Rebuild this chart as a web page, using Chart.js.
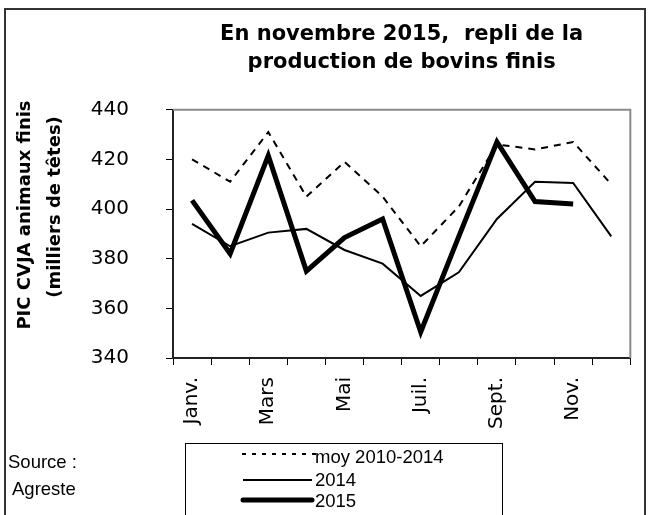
<!DOCTYPE html>
<html lang="fr">
<head>
<meta charset="utf-8">
<script src="https://cdn.jsdelivr.net/npm/chart.js@4.4.0/dist/chart.umd.min.js"></script>
<style>
  html, body { margin: 0; padding: 0; background: #fff; }
  canvas { display: block; }
</style>
</head>
<body>
<canvas id="graphique" width="648" height="515"></canvas>
<script>
const mois = ["Janv.", "Févr.", "Mars", "Avr.", "Mai", "Juin", "Juil.", "Août", "Sept.", "Oct.", "Nov.", "Déc."];
const moy20102014 = [420, 411, 431, 405, 419, 405, 385, 401, 426, 424, 427, 410];
const annee2014 = [394, 385, 390.5, 392, 383.5, 378, 365, 374.5, 396, 411, 410.5, 389];
const annee2015 = [403.5, 382, 421.5, 375, 388.5, 396, 350.5, 389, 427, 403, 402, null];
const titre = ["En novembre 2015,  repli de la", "production de bovins finis"];
const titreAxeY = ["PIC CVJA animaux finis", "(milliers de têtes)"];
const source = ["Source :", "Agreste"];

const FONT_AXES = "'DejaVu Sans', sans-serif";
const FONT_TEXTE = "'Liberation Sans', Arial, sans-serif";

// cadre, titre vertical, légende et source dessinés autour du graphique
const habillage = {
  id: "habillage",
  beforeDraw(chart) {
    const { ctx, width, height } = chart;
    ctx.save();
    ctx.fillStyle = "#fff";
    ctx.fillRect(0, 0, width, height);
    ctx.restore();
  },
  beforeDatasetsDraw(chart) {
    const { ctx, chartArea: a } = chart;
    ctx.save();
    ctx.strokeStyle = "#8a8a8a";
    ctx.lineWidth = 2;
    ctx.beginPath();
    ctx.moveTo(a.left, a.top);
    ctx.lineTo(a.right, a.top);
    ctx.lineTo(a.right, a.bottom);
    ctx.stroke();
    ctx.restore();
  },
  afterDraw(chart) {
    const { ctx } = chart;
    ctx.save();

    // cadre extérieur
    ctx.strokeStyle = "#333";
    ctx.lineWidth = 2;
    ctx.strokeRect(5, 9, 640, 520);

    // titre de l'axe Y
    ctx.fillStyle = "#000";
    ctx.font = "bold 18px " + FONT_AXES;
    ctx.textAlign = "center";
    ctx.textBaseline = "middle";
    ctx.save();
    ctx.translate(25, 215);
    ctx.rotate(-Math.PI / 2);
    titreAxeY.forEach((ligne, i) => ctx.fillText(ligne, i === 1 ? 8 : 0, i * 30.5));
    ctx.restore();

    // légende
    ctx.strokeStyle = "#000";
    ctx.lineWidth = 1;
    ctx.strokeRect(185.5, 443.5, 317, 80);
    const lignesY = [454, 480, 500];
    const textesY = [458, 481, 501.5];
    ctx.font = "18.5px " + FONT_TEXTE;
    ctx.textAlign = "left";
    chart.data.datasets.forEach((ds, i) => {
      ctx.save();
      ctx.strokeStyle = ds.borderColor;
      ctx.lineWidth = ds.borderWidth;
      ctx.lineCap = i === 2 ? "round" : "butt";
      ctx.setLineDash(ds.borderDash ? [4, 6] : []);
      ctx.beginPath();
      ctx.moveTo(i === 0 ? 242 : 243, lignesY[i]);
      ctx.lineTo(i === 0 ? 316 : 312, lignesY[i]);
      ctx.stroke();
      ctx.restore();
      ctx.fillText(ds.label, 315, textesY[i]);
    });

    // source
    ctx.fillText(source[0], 8, 463);
    ctx.fillText(source[1], 12, 490);

    ctx.restore();
  },
};

const graphique = new Chart(document.getElementById("graphique"), {
  type: "line",
  data: {
    labels: mois,
    datasets: [
      { label: "moy 2010-2014", data: moy20102014, borderColor: "#000", borderWidth: 2, borderDash: [7, 6] },
      { label: "2014", data: annee2014, borderColor: "#000", borderWidth: 2 },
      { label: "2015", data: annee2015, borderColor: "#000", borderWidth: 5 },
    ],
  },
  options: {
    responsive: false,
    animation: false,
    devicePixelRatio: 1,
    layout: { padding: { left: 6, right: 6, top: 0, bottom: 0 } },
    elements: {
      point: { radius: 0, hoverRadius: 0 },
      line: { tension: 0, fill: false },
    },
    plugins: {
      legend: { display: false },
      tooltip: { enabled: false },
      title: {
        display: true,
        text: titre,
        fullSize: false,
        color: "#000",
        font: { family: FONT_AXES, size: 21, weight: "bold", lineHeight: 1.35 },
        padding: { top: 20, bottom: 33 },
      },
    },
    scales: {
      x: {
        type: "category",
        offset: true,
        grid: { display: true, offset: true, drawOnChartArea: false, tickLength: 7, color: "#000", lineWidth: 1 },
        border: { display: true, color: "#222", width: 2 },
        ticks: {
          autoSkip: false,
          maxRotation: 90,
          minRotation: 90,
          padding: 12,
          color: "#000",
          font: { family: FONT_AXES, size: 20 },
          callback: function (v, i) { return i % 2 === 0 ? this.getLabelForValue(v) : ""; },
        },
        afterFit(scale) { scale.height = 157; },
      },
      y: {
        min: 340,
        max: 440,
        grid: { display: true, drawOnChartArea: false, tickLength: 7, color: "#000", lineWidth: 1 },
        border: { display: true, color: "#222", width: 2 },
        ticks: {
          stepSize: 20,
          padding: 37,
          color: "#000",
          font: { family: FONT_AXES, size: 20 },
        },
        afterFit(scale) { scale.width = 167; },
      },
    },
  },
  plugins: [habillage],
});
</script>
</body>
</html>
